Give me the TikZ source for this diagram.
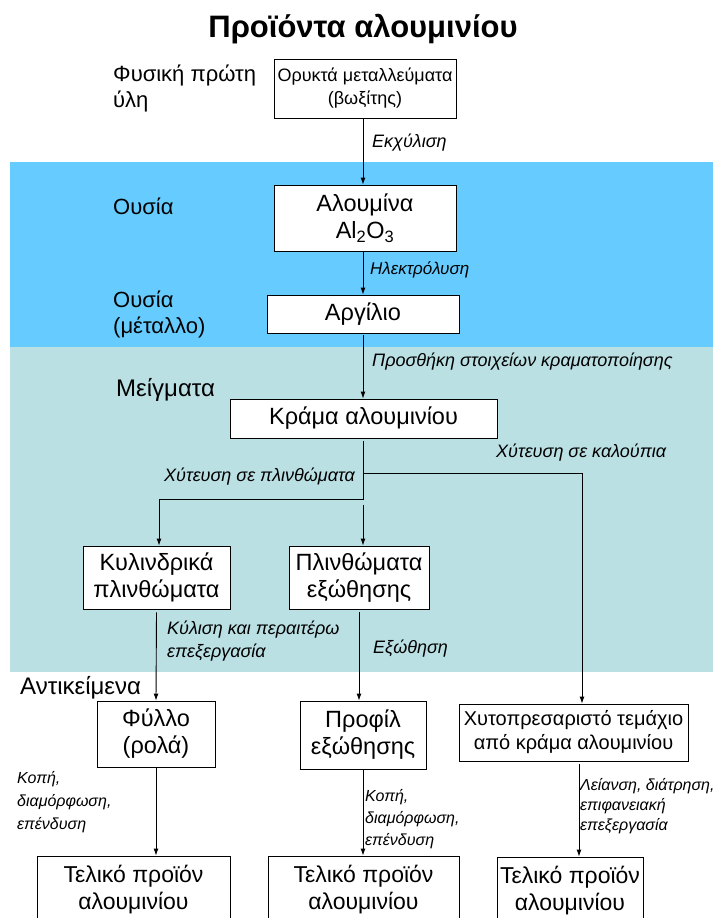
\documentclass[tikz,border=0pt]{standalone}
\usepackage{fontspec}
\setmainfont{Liberation Sans}
\usetikzlibrary{arrows.meta,calc}
\definecolor{bandblue}{HTML}{66CCFF}
\definecolor{bandteal}{HTML}{BAE0E4}
\begin{document}
\begin{tikzpicture}[x=1pt,y=-1pt,
  box/.style={draw=black,fill=white,line width=0.9pt,inner sep=0pt,align=center},
  bigtxt/.style={font=\fontsize{23.5}{27}\selectfont},
  fintxt/.style={font=\fontsize{23}{27}\selectfont},
  lab/.style={inner sep=0pt,anchor=west,align=left,font=\fontsize{22}{26}\selectfont},
  proc/.style={inner sep=0pt,anchor=west,align=left,font=\fontsize{18}{23}\selectfont\itshape},
  small/.style={font=\fontsize{16}{22}\selectfont\itshape},
  flow/.style={line width=0.9pt,-{Latex[length=7pt,width=5pt]}},
  wire/.style={line width=0.9pt}]
\clip (0,0) rectangle (713,918);
\fill[white] (0,0) rectangle (713,918);
% stage bands
\fill[bandblue] (10,162) rectangle (713,347);
\fill[bandteal] (10,347) rectangle (713,672);

% title
\node[font=\fontsize{31}{36}\selectfont\bfseries] (title) at (363,29) {Προϊόντα αλουμινίου};

% stage labels
\node[lab] (raw) at (113,88) {Φυσική πρώτη\\ύλη};
\node[lab] (sub1) at (113,206) {Ουσία};
\node[lab] (sub2) at (113,314) {Ουσία\\(μέταλλο)};
\node[lab,font=\fontsize{24}{26}\selectfont] (mix) at (116,390) {Μείγματα};
\node[lab,font=\fontsize{24}{26}\selectfont] (obj) at (20,688) {Αντικείμενα};

% boxes
\node[box,minimum width=182pt,minimum height=59pt,font=\fontsize{18}{23}\selectfont] (ore) at (365,88.5) {Ορυκτά μεταλλεύματα\\(βωξίτης)};
\node[box,bigtxt,minimum width=182pt,minimum height=66pt] (alumina) at (365,218) {Αλουμίνα\\Al\textsubscript{2}O\textsubscript{3}};
\node[box,bigtxt,minimum width=192pt,minimum height=38pt] (metal) at (363,314) {Αργίλιο};
\node[box,bigtxt,minimum width=267pt,minimum height=39pt] (alloy) at (363.5,418.5) {Κράμα αλουμινίου};
\node[box,bigtxt,minimum width=147pt,minimum height=63pt] (cyl) at (156.5,577.5) {Κυλινδρικά\\πλινθώματα};
\node[box,bigtxt,minimum width=140pt,minimum height=63pt] (billet) at (359,577.5) {Πλινθώματα\\εξώθησης};
\node[box,bigtxt,minimum width=118pt,minimum height=66pt] (sheet) at (156,734) {Φύλλο\\(ρολά)};
\node[box,bigtxt,minimum width=126pt,minimum height=68pt] (profile) at (363,735) {Προφίλ\\εξώθησης};
\node[box,minimum width=229pt,minimum height=57pt,font=\fontsize{20}{24}\selectfont] (die) at (573.5,732.5) {Χυτοπρεσαριστό τεμάχιο\\από κράμα αλουμινίου};
\node[box,fintxt,minimum width=193pt,minimum height=68pt] (fin1) at (133.5,890) {Τελικό προϊόν\\αλουμινίου};
\node[box,fintxt,minimum width=191pt,minimum height=68pt] (fin2) at (363.5,890) {Τελικό προϊόν\\αλουμινίου};
\node[box,fintxt,minimum width=146pt,minimum height=68pt] (fin3) at (570,891) {Τελικό προϊόν\\αλουμινίου};

% junctions of the casting split
\coordinate (jR) at (363,473);
\coordinate (jL) at (363,499);
\coordinate (jM) at (363,505);

% connectors
\draw[flow] ([xshift=-2pt]ore.south) -- ([xshift=-2pt]alumina.north);
\draw[flow] ([xshift=-2pt]alumina.south) -- (metal.north);
\draw[flow] ([yshift=-2pt]metal.south) -- (metal.south |- alloy.north);
\draw[flow] ([yshift=-3pt]alloy.south -| jL) -- (jL) -| ([xshift=2.5pt]cyl.north);
\draw[flow] (jR) -| ([xshift=8.5pt]die.north);
\draw[flow] (jM) -- (jM |- billet.north);
\draw[flow] ([yshift=-3pt]cyl.south) -- (sheet.north);
\draw[flow] ([yshift=-3pt]billet.south) -- (billet.south |- profile.north);
\draw[flow] ([xshift=5.5pt,yshift=-3pt]die.south) -- ([xshift=5.5pt]die.south |- fin3.north);
\draw[flow] (sheet.south) -- (sheet.south |- fin1.north);
\draw[flow] (profile.south) -- (profile.south |- fin2.north);

% process labels
\node[proc] (p1) at (372,143) {Εκχύλιση};
\node[proc,font=\fontsize{17}{21}\selectfont\itshape] (p2) at (370,270) {Ηλεκτρόλυση};
\node[proc] (p3) at (372,362) {Προσθήκη στοιχείων κραματοποίησης};
\node[proc] (p4) at (496,453) {Χύτευση σε καλούπια};
\node[proc,anchor=east] (p5) at (355,477) {Χύτευση σε πλινθώματα};
\node[proc] (p6) at (167,641.5) {Κύλιση και περαιτέρω\\επεξεργασία};
\node[proc] (p7) at (373,649) {Εξώθηση};
\node[proc,small,font=\fontsize{16}{23}\selectfont\itshape] (p8) at (17,802) {Κοπή,\\διαμόρφωση,\\επένδυση};
\node[proc,small] (p9) at (365,819) {Κοπή,\\διαμόρφωση,\\επένδυση};
\node[proc,small,font=\fontsize{16}{20}\selectfont\itshape] (p10) at (580,806) {Λείανση, διάτρηση,\\επιφανειακή\\επεξεργασία};
\end{tikzpicture}
\end{document}
